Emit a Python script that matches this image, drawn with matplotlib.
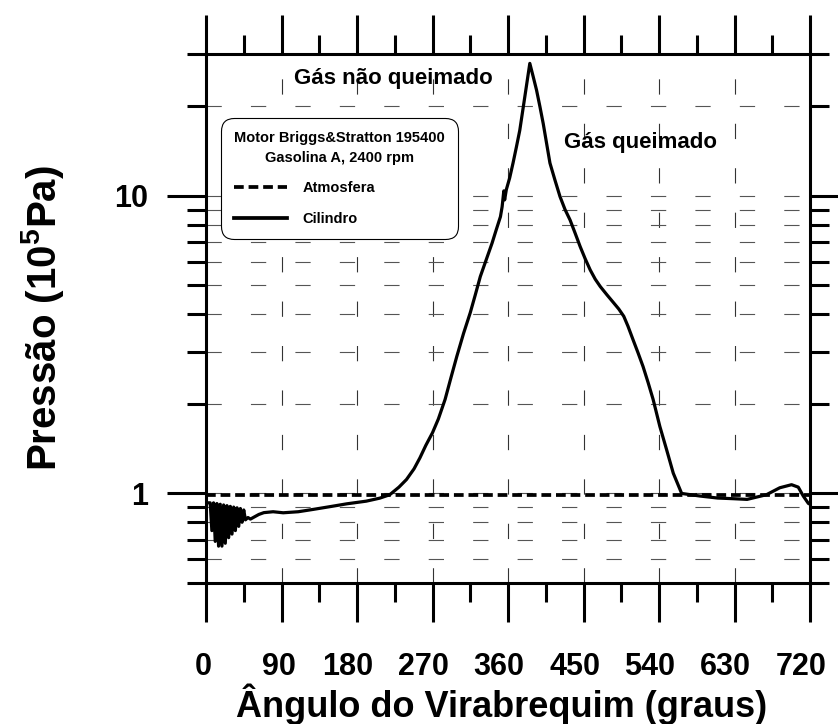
import numpy as np
import matplotlib
matplotlib.use('Agg')
import matplotlib.pyplot as plt
from matplotlib.ticker import MultipleLocator, LogLocator, NullFormatter, FixedLocator, FixedFormatter
from matplotlib.lines import Line2D
import matplotlib.transforms as mtransforms

plt.rcParams['font.family'] = ['Liberation Sans', 'DejaVu Sans']
plt.rcParams['font.weight'] = 'bold'
plt.rcParams['lines.scale_dashes'] = False
plt.rcParams['mathtext.fontset'] = 'custom'
plt.rcParams['mathtext.rm'] = 'Liberation Sans:bold'
plt.rcParams['mathtext.bf'] = 'Liberation Sans:bold'
plt.rcParams['mathtext.it'] = 'Liberation Sans:bold'
plt.rcParams['mathtext.default'] = 'rm'

# crank angle (graus) and cylinder pressure (10^5 Pa)
angulo = [0, 5, 7, 9, 11, 13, 15, 17, 19, 21, 23, 25, 27, 29, 31, 33, 35, 37, 39,
          41, 43, 45, 47, 50, 53, 58, 63, 69, 80, 92, 110, 128, 150, 168, 191, 207,
          219, 230, 239, 248, 255, 262, 270, 277, 285, 292, 299, 307, 315, 321, 327,
          334, 341, 346, 351, 353, 355, 356, 358, 362, 366, 370, 374, 380, 386, 390,
          394, 398, 402, 410, 416, 422, 428, 434, 440, 446, 452, 458, 464, 470, 478,
          486, 492, 498, 503, 509, 515, 521, 527, 533, 541, 549, 557, 567, 589, 610,
          629, 645, 668, 684, 698, 706, 712, 718, 720]
cilindro = [0.93, 0.93, 0.75, 0.93, 0.69, 0.925, 0.665, 0.92, 0.665, 0.915, 0.68,
            0.91, 0.71, 0.905, 0.73, 0.90, 0.75, 0.895, 0.775, 0.89, 0.80, 0.88,
            0.815, 0.83, 0.82, 0.835, 0.85, 0.862, 0.868, 0.861, 0.868, 0.884, 0.905,
            0.923, 0.942, 0.964, 0.99, 1.05, 1.114, 1.21, 1.317, 1.45, 1.60, 1.78,
            2.07, 2.45, 2.89, 3.45, 4.05, 4.65, 5.36, 6.1, 6.94, 7.7, 8.52, 9.2, 10.4,
            9.7, 10.5, 11.5, 12.9, 14.6, 16.6, 21.5, 27.9, 25.2, 22.7, 20.0, 17.5,
            12.9, 11.3, 9.95, 9.0, 8.3, 7.5, 6.76, 6.15, 5.64, 5.25, 4.96, 4.65, 4.37,
            4.17, 3.94, 3.65, 3.29, 2.97, 2.67, 2.36, 2.07, 1.68, 1.405, 1.17, 1.0,
            0.98, 0.965, 0.96, 0.955, 0.99, 1.045, 1.07, 1.05, 0.98, 0.926, 0.92]
atm_angulo = [0, 720]
atmosfera = [0.99, 0.99]

xticks = [0, 90, 180, 270, 360, 450, 540, 630, 720]
xticklabels = ['0', '90', '180', '270', '360', '450', '540', '630', '720']
yticks = [1, 10]
yticklabels = ['1', '10']

fig = plt.figure(figsize=(8.38, 7.24), dpi=100)
ax = fig.add_axes([206/838, 1 - 583/724, 604/838, 529/724])

ax.plot(atm_angulo, atmosfera, color='black', lw=2.7, dashes=(7, 3.5), zorder=3)
ax.plot(angulo, cilindro, color='black', lw=2.3, zorder=4)

ax.set_yscale('log')
ax.set_xlim(0, 720)
ax.set_ylim(0.5, 30)

ax.xaxis.set_major_locator(FixedLocator(xticks))
ax.xaxis.set_major_formatter(FixedFormatter(xticklabels))
ax.xaxis.set_minor_locator(MultipleLocator(45))
ax.yaxis.set_major_locator(FixedLocator(yticks))
ax.yaxis.set_major_formatter(FixedFormatter(yticklabels))
ax.yaxis.set_minor_locator(LogLocator(base=10, subs=np.arange(2, 10)))
ax.yaxis.set_minor_formatter(NullFormatter())

for s in ax.spines.values():
    s.set_linewidth(2.2)

ax.tick_params(which='both', direction='out', top=True, right=True, width=2.2)
ax.tick_params(which='major', length=28, labelsize=22)
ax.tick_params(which='minor', length=14)
ax.tick_params(axis='x', which='major', pad=22)
ax.tick_params(axis='y', which='major', pad=14)

ax.grid(True, which='major', axis='x', color='#333333', lw=0.8, dashes=(11, 21))
ax.grid(True, which='both', axis='y', color='#555555', lw=0.8, dashes=(11, 21))

# shift the long x tick labels slightly left, as in the original
for lab in ax.get_xticklabels():
    shift = -3 if len(lab.get_text()) < 3 else -9
    lab.set_transform(lab.get_transform() + mtransforms.ScaledTranslation(shift/100, 0, fig.dpi_scale_trans))

ax.set_xlabel('Ângulo do Virabrequim (graus)', fontsize=26, fontweight='bold')
ax.xaxis.set_label_coords(0.49, -0.19)
ax.set_ylabel('Pressão (10$^{5}$Pa)', fontsize=29, fontweight='bold')
ax.yaxis.set_label_coords(-0.232, 0.50)

ax.text(223, 24.9, 'Gás não queimado', fontsize=16, fontweight='bold', ha='center', va='center')
ax.text(518, 15.1, 'Gás queimado', fontsize=16, fontweight='bold', ha='center', va='center')

handles = [Line2D([], [], color='black', lw=2.7, dashes=(7, 3.5)),
           Line2D([], [], color='black', lw=2.7)]
leg = ax.legend(handles, ['Atmosfera', 'Cilindro'],
                title='Motor Briggs&Stratton 195400\nGasolina A, 2400 rpm',
                loc='upper left', bbox_to_anchor=(221/838, 1 - 118/724),
                bbox_transform=fig.transFigure, borderaxespad=0,
                prop={'size': 10.5, 'weight': 'bold'},
                title_fontproperties={'size': 10.5, 'weight': 'bold'},
                handlelength=3.6, handletextpad=1.1, labelspacing=1.15,
                borderpad=0.9, fancybox=True, framealpha=1, edgecolor='black',
                alignment='left')
leg.get_title().set_multialignment('center')
leg.get_title().set_linespacing(1.5)
leg.get_frame().set_linewidth(0.8)
leg.get_frame().set_boxstyle('round', pad=0, rounding_size=0.9)
leg.set_zorder(5)

fig.savefig('out.png', dpi=100)
